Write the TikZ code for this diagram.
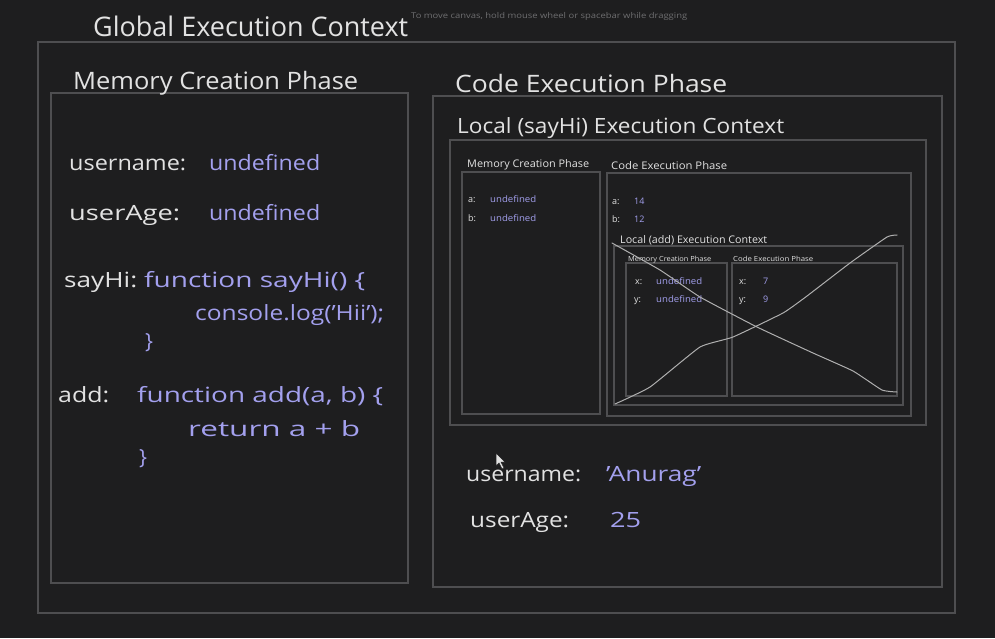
\documentclass[tikz,border=0pt]{standalone}
\usepackage{fontspec}
\setmainfont{Open Sans}
\usepackage{graphicx}
\definecolor{bg}{RGB}{30,30,31}
\definecolor{ln}{RGB}{78,78,80}
\definecolor{fg}{RGB}{226,226,226}
\definecolor{bl}{RGB}{163,160,238}
\definecolor{hint}{RGB}{110,110,112}
\definecolor{strike}{RGB}{175,175,175}
\newcommand\tw[2]{\resizebox{#1pt}{\height}{#2}}
\tikzset{
  box/.style={draw=ln, line width=1.3pt, inner sep=0pt, rectangle},
  lab/.style={anchor=base west, inner sep=0pt, text=fg},
  val/.style={lab, text=bl},
  fA/.style={font=\fontsize{27}{30}\selectfont},
  fB/.style={font=\fontsize{24}{28}\selectfont},
  fC/.style={font=\fontsize{21}{25}\selectfont},
  fD/.style={font=\fontsize{10.5}{12}\selectfont},
  fE/.style={font=\fontsize{9}{11}\selectfont},
  fF/.style={font=\fontsize{7}{8}\selectfont},
}
\begin{document}
\begin{tikzpicture}[x=1pt,y=-1pt]
\fill[bg] (0,0) rectangle (995,638);
\useasboundingbox (0,0) rectangle (995,638);
% boxes
\node[box, minimum width=917pt, minimum height=571pt] (gec) at (496.5,327.5) {};
\node[box, minimum width=357pt, minimum height=490pt] (gmem) at (229.5,338) {};
\node[box, minimum width=509pt, minimum height=491pt] (gcode) at (687.5,341.5) {};
\node[box, minimum width=476pt, minimum height=285pt] (lsay) at (688,282.5) {};
\node[box, minimum width=138pt, minimum height=242pt] (smem) at (531,293) {};
\node[box, minimum width=304pt, minimum height=243pt] (scode) at (759,294.5) {};
\node[box, minimum width=289pt, minimum height=159pt] (ladd) at (758.5,325.5) {};
\node[box, minimum width=101pt, minimum height=133pt] (amem) at (676.5,329.5) {};
\node[box, minimum width=165pt, minimum height=133pt] (acode) at (814.5,329.5) {};
% titles
\node[lab, fA] (t1) at (93,36) {\tw{315}{Global Execution Context}};
\node[lab, text=hint, font=\fontsize{8}{9}\selectfont] (hint) at (411,18) {\tw{276}{To move canvas, hold mouse wheel or spacebar while dragging}};
\node[lab, fB] (t2) at (73,89) {\tw{285}{Memory Creation Phase}};
\node[lab, fB] (t3) at (455,92) {\tw{272}{Code Execution Phase}};
\node[lab, fC] (t4) at (457,133) {\tw{327}{Local (sayHi) Execution Context}};
% global memory
\node[lab, fC] (k1) at (69,170) {\tw{117}{username:}};
\node[val, fC] (v1) at (209,170) {\tw{111}{undefined}};
\node[lab, fC] (k2) at (69,220) {\tw{111}{userAge:}};
\node[val, fC] (v2) at (209,220) {\tw{111}{undefined}};
\node[lab, fC] (k3) at (64,287) {\tw{73}{sayHi:}};
\node[val, fC] (v3) at (144,287) {\tw{221}{function sayHi() \{}};
\node[val, fC] (v3b) at (195,320) {\tw{189}{console.log('Hii');}};
\node[val, fC] (v3c) at (145,348) {\}};
\node[lab, fC] (k4) at (58,402) {\tw{51}{add:}};
\node[val, fC] (v4) at (137,402) {\tw{246}{function add(a, b) \{}};
\node[val, fC] (v4b) at (188,436) {\tw{172}{return a + b}};
\node[val, fC] (v4c) at (139,464) {\}};
% global code execution
\node[lab, fC] (k5) at (466,481) {\tw{115}{username:}};
\node[val, fC] (v5) at (606,481) {\tw{95}{'Anurag'}};
\node[lab, fC] (k6) at (470,527) {\tw{99}{userAge:}};
\node[val, fC] (v6) at (610,527) {\tw{31}{25}};
% sayHi context
\node[lab, fD] (s1) at (467,167) {\tw{122}{Memory Creation Phase}};
\node[lab, fD] (s2) at (611,169) {\tw{116}{Code Execution Phase}};
\node[lab, fE] (sa) at (468,202) {a:};
\node[val, fE] (sav) at (490,202) {\tw{46}{undefined}};
\node[lab, fE] (sb) at (468,221) {b:};
\node[val, fE] (sbv) at (490,221) {\tw{46}{undefined}};
\node[lab, fE] (ca) at (612,204) {a:};
\node[val, fE] (cav) at (634,204) {14};
\node[lab, fE] (cb) at (612,222) {b:};
\node[val, fE] (cbv) at (634,222) {12};
% add context
\node[lab, fD] (l2) at (620,243) {\tw{147}{Local (add) Execution Context}};
\node[lab, fF] (a1) at (628,261) {\tw{83}{Memory Creation Phase}};
\node[lab, fF] (a2) at (733,261) {\tw{80}{Code Execution Phase}};
\node[lab, fE] (ax) at (635,284) {x:};
\node[val, fE] (axv) at (656,284) {\tw{46}{undefined}};
\node[lab, fE] (ay) at (634,302) {y:};
\node[val, fE] (ayv) at (656,302) {\tw{46}{undefined}};
\node[lab, fE] (bx) at (739,284) {x:};
\node[val, fE] (bxv) at (763,284) {7};
\node[lab, fE] (by) at (739,302) {y:};
\node[val, fE] (byv) at (763,302) {9};
% strike-through cross
\draw[strike, line width=1pt, line cap=round] plot[smooth, tension=0.25] coordinates {(612,243) (660,270) (700,297) (757,327) (813,353) (853,371) (882,390) (897,392)};
\draw[strike, line width=1pt, line cap=round] plot[smooth, tension=0.25] coordinates {(615,404) (650,387) (700,347) (733,337) (783,313) (807,296) (850,263) (887,237) (897,235)};
% mouse cursor
\filldraw[fill=fg, draw=bg, line width=0.5pt] (496,453) -- (496,466) -- (499,463) -- (502,469) -- (504,468) -- (501,462) -- (505,462) -- cycle;
\end{tikzpicture}
\end{document}
